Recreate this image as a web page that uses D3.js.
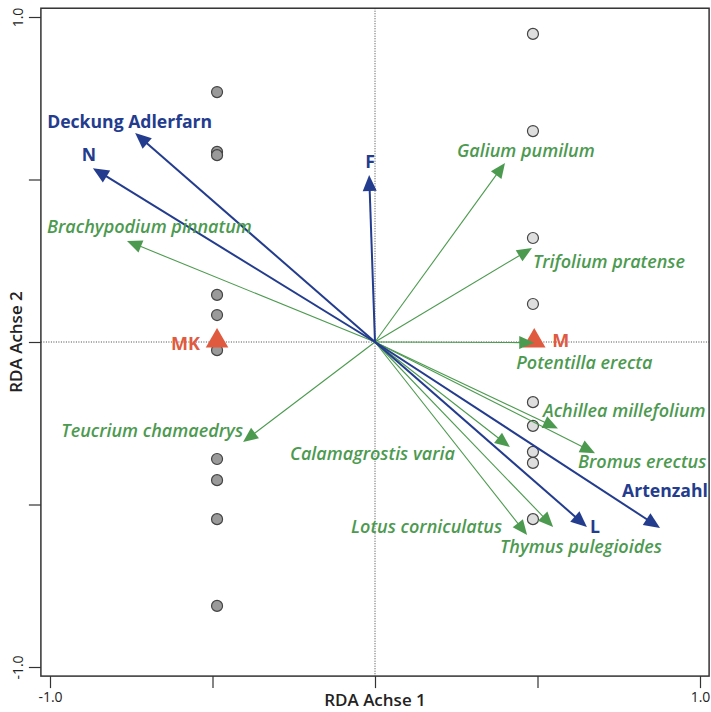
<!DOCTYPE html>
<html><head><meta charset="utf-8">
<script src="https://cdn.jsdelivr.net/npm/d3@7"></script>
<style>
html,body{margin:0;padding:0;background:#fff;}
text{font-family:"Open Sans","Noto Sans",sans-serif;}
</style></head>
<body>
<svg id="chart" width="711" height="712"></svg>
<script>
// ---- data ----
const envNames = ["Deckung Adlerfarn", "N", "F", "L", "Artenzahl"];
const envX = [-0.738, -0.868, -0.018, 0.652, 0.877];
const envY = [0.643, 0.535, 0.514, -0.569, -0.572];

const specNames = ["Galium pumilum", "Trifolium pratense", "Brachypodium pinnatum", "Teucrium chamaedrys",
  "Potentilla erecta", "Achillea millefolium", "Bromus erectus", "Calamagrostis varia",
  "Lotus corniculatus", "Thymus pulegioides"];
const specX = [0.400, 0.483, -0.763, -0.406, 0.490, 0.563, 0.677, 0.415, 0.468, 0.548];
const specY = [0.551, 0.289, 0.311, -0.308, -0.002, -0.266, -0.342, -0.323, -0.594, -0.569];

const siteMKx = -0.486;
const siteMKy = [0.769, 0.585, 0.575, 0.145, 0.083, -0.025, -0.360, -0.425, -0.545, -0.812];
const siteMx = 0.486;
const siteMy = [0.948, 0.649, 0.320, 0.117, -0.185, -0.258, -0.338, -0.372, -0.545];

const centroidNames = ["MK", "M"];
const centroidX = [-0.486, 0.49];
const centroidY = [0.0, 0.0];

const tickValues = [-1, -0.5, 0, 0.5, 1];
const tickLabels = ["-1.0", "", "", "", "1.0"];
const xTitle = "RDA  Achse 1";
const yTitle = "RDA  Achse 2";

// ---- layout / style ----
const blue = "#233c8e", green = "#4c9a4f", red = "#e05a3f";
const svg = d3.select("#chart");
const x = d3.scaleLinear().domain([-1, 1]).range([50, 700]);
const y = d3.scaleLinear().domain([-1, 1]).range([667, 17]);
const box = {x0: x(-1.028), x1: x(1.028), y0: y(1.027), y1: y(-1.028)};

// dotted zero lines
svg.append("line").attr("x1", x(0)).attr("x2", x(0)).attr("y1", box.y0).attr("y2", box.y1)
  .attr("stroke", "#444").attr("stroke-width", 1).attr("stroke-dasharray", "1,1.5");
svg.append("line").attr("x1", box.x0).attr("x2", box.x1).attr("y1", y(0)).attr("y2", y(0))
  .attr("stroke", "#444").attr("stroke-width", 1).attr("stroke-dasharray", "1,1.5");

// axes
const xAxis = d3.axisBottom(x).tickValues(tickValues).tickSize(12).tickSizeOuter(0)
  .tickFormat((d, i) => tickLabels[i]);
const gx = svg.append("g").attr("transform", `translate(0,${box.y1})`).call(xAxis);
gx.select(".domain").remove();
gx.selectAll(".tick line").attr("stroke", "#333").attr("stroke-width", 1.2);
gx.selectAll(".tick text").attr("fill", "#222").attr("font-size", 14).attr("y", 16)
  .attr("font-family", "Open Sans");

const yAxis = d3.axisLeft(y).tickValues(tickValues).tickSize(12).tickSizeOuter(0);
const gy = svg.append("g").attr("transform", `translate(${box.x0},0)`).call(yAxis);
gy.select(".domain").remove();
gy.selectAll(".tick line").attr("stroke", "#333").attr("stroke-width", 1.2);
gy.selectAll(".tick text").attr("fill", "#222").attr("font-size", 14)
  .attr("x", null).attr("dy", null)
  .attr("text-anchor", "middle")
  .attr("transform", "translate(-18,0) rotate(-90)")
  .attr("y", 0)
  .text(d => tickLabels[tickValues.indexOf(d)]);

// frame
svg.append("rect").attr("x", box.x0).attr("y", box.y0)
  .attr("width", box.x1 - box.x0).attr("height", box.y1 - box.y0)
  .attr("fill", "none").attr("stroke", "#333").attr("stroke-width", 1.5);

// axis titles
svg.append("text").attr("x", x(0)).attr("y", 706).attr("text-anchor", "middle")
  .attr("font-size", 17).attr("font-weight", 600).attr("fill", "#222").text(xTitle);
svg.append("text").attr("transform", `translate(22,${y(0)}) rotate(-90)`)
  .attr("text-anchor", "middle").attr("font-size", 17).attr("font-weight", 600)
  .attr("fill", "#222").text(yTitle);

// site points
const r = 5.5;
svg.append("g").selectAll("circle").data(siteMKy).join("circle")
  .attr("cx", x(siteMKx)).attr("cy", d => y(d)).attr("r", r)
  .attr("fill", "#9a9a9a").attr("stroke", "#444").attr("stroke-width", 1.2);
svg.append("g").selectAll("circle").data(siteMy).join("circle")
  .attr("cx", x(siteMx)).attr("cy", d => y(d)).attr("r", r)
  .attr("fill", "#dedede").attr("stroke", "#444").attr("stroke-width", 1.2);

// centroid triangles
const tri = d3.symbol().type(d3.symbolTriangle).size(220);
svg.append("g").selectAll("path").data(centroidX).join("path")
  .attr("d", tri).attr("transform", (d, i) => `translate(${x(d)},${y(centroidY[i]) - 1})`)
  .attr("fill", red);

// arrows
function arrow(g, tx, ty, color, lw, hl, hw) {
  const x0 = x(0), y0 = y(0), x1 = x(tx), y1 = y(ty);
  const dx = x1 - x0, dy = y1 - y0, L = Math.hypot(dx, dy);
  const ux = dx / L, uy = dy / L;
  const bx = x1 - ux * hl, by = y1 - uy * hl;
  g.append("line").attr("x1", x0).attr("y1", y0).attr("x2", bx + ux * 2).attr("y2", by + uy * 2)
    .attr("stroke", color).attr("stroke-width", lw);
  g.append("path").attr("d", `M${x1},${y1}L${bx - uy * hw},${by + ux * hw}L${bx + uy * hw},${by - ux * hw}Z`)
    .attr("fill", color);
}
const ga = svg.append("g");
specX.forEach((v, i) => arrow(ga, v, specY[i], green, 1.1, 15, 6.5));
const gb = svg.append("g");
envX.forEach((v, i) => arrow(gb, v, envY[i], blue, 2, 16, 7));

// labels (pixel offsets from arrow tips)
const envLabelPos = [[-88, -5, "start"], [-4, -7, "middle"], [1, -7, "middle"], [3, 6, "start"], [-38, -31, "start"]];
const specLabelPos = [[-48, -6, "start"], [1, 20, "start"], [-80, -8, "start"], [0, -5, "end"],
  [-18, 26, "start"], [-15, -11, "start"], [-17, 15, "start"], [-55, 13, "end"], [-25, -2, "end"], [-53, 26, "start"]];

svg.append("g").selectAll("text").data(specNames).join("text")
  .attr("x", (d, i) => x(specX[i]) + specLabelPos[i][0])
  .attr("y", (d, i) => y(specY[i]) + specLabelPos[i][1])
  .attr("text-anchor", (d, i) => specLabelPos[i][2])
  .attr("font-size", 18).attr("font-style", "italic").attr("font-weight", 600)
  .attr("fill", green).text(d => d);

svg.append("g").selectAll("text").data(envNames).join("text")
  .attr("x", (d, i) => x(envX[i]) + envLabelPos[i][0])
  .attr("y", (d, i) => y(envY[i]) + envLabelPos[i][1])
  .attr("text-anchor", (d, i) => envLabelPos[i][2])
  .attr("font-size", 17.6).attr("font-weight", 700)
  .attr("fill", blue).text(d => d);

const centroidLabelPos = [[-17, 8, "end"], [18, 5, "start"]];
svg.append("g").selectAll("text").data(centroidNames).join("text")
  .attr("x", (d, i) => x(centroidX[i]) + centroidLabelPos[i][0])
  .attr("y", (d, i) => y(centroidY[i]) + centroidLabelPos[i][1])
  .attr("text-anchor", (d, i) => centroidLabelPos[i][2])
  .attr("font-size", 18).attr("font-weight", 700)
  .attr("fill", red).text(d => d);
</script>
</body></html>
